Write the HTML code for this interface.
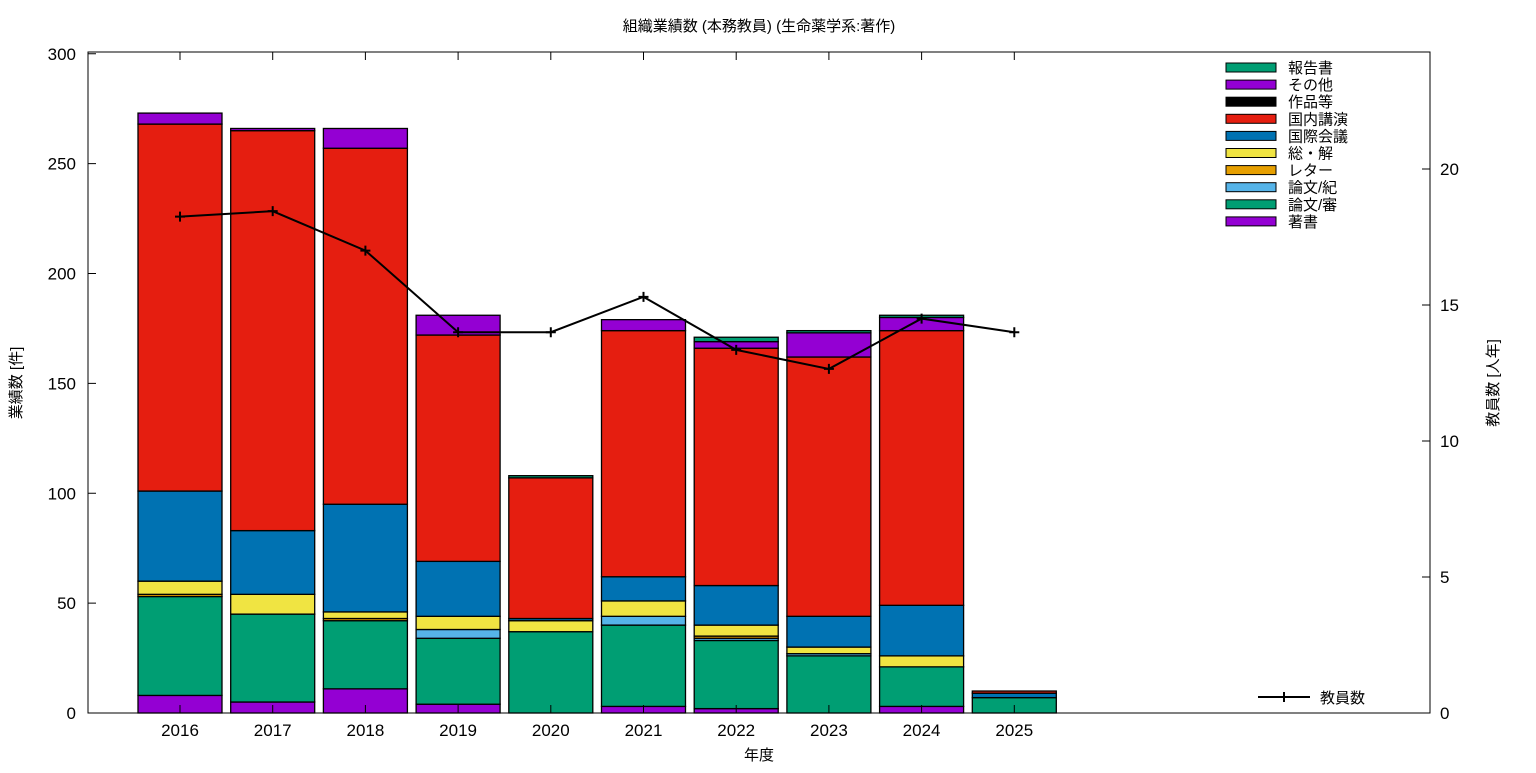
<!DOCTYPE html>
<html><head><meta charset="utf-8"><style>
body{margin:0;background:#fff;}
svg text{font-family:"Liberation Sans","Noto Sans CJK JP",sans-serif;}
</style></head><body>
<svg id="c" width="1536" height="768" xmlns="http://www.w3.org/2000/svg"></svg>
<script>
const years=["2016","2017","2018","2019","2020","2021","2022","2023","2024","2025"];
const seriesNames=["著書","論文/審","論文/紀","レター","総・解","国際会議","国内講演","作品等","その他","報告書"];
const seriesColors=["#9400d3","#009e73","#56b4e9","#e69f00","#f0e442","#0072b2","#e51e10","#000000","#9400d3","#009e73"];
const chosho=[8,5,11,4,0,3,2,0,3,0];
const shinsa=[45,40,31,30,37,37,31,26,18,7];
const kiyo=[0,0,0,4,0,4,1,1,0,0];
const letter=[1,0,1,0,0,0,1,0,0,0];
const sokai=[6,9,3,6,5,7,5,3,5,0];
const kokusai=[41,29,49,25,1,11,18,14,23,2];
const kokunai=[167,182,162,103,64,112,108,118,125,1];
const sakuhin=[0,0,0,0,0,0,0,0,0,0];
const sonota=[5,1,9,9,0,5,3,11,6,0];
const hokoku=[0,0,0,0,1,0,2,1,1,0];
const staff=[18.25,18.45,17.0,14.0,14.0,15.3,13.35,12.65,14.5,14.0];
const leftTicks=[0,50,100,150,200,250,300];
const rightTicks=[0,5,10,15,20];

const L=88,R=1430,T=52,B=713;
const yL=v=>B-v*(B-T)/300.8;
const yR=v=>B-v*27.2;
const xC=i=>180+i*92.7;
const bw=84;
const svg=document.getElementById('c');
const NS="http://www.w3.org/2000/svg";
function mk(tag,attrs,parent){const e=document.createElementNS(NS,tag);for(const k in attrs)e.setAttribute(k,attrs[k]);(parent||svg).appendChild(e);return e;}
function txt(s,attrs){const e=mk('text',attrs);e.textContent=s;return e;}

const all=[chosho,shinsa,kiyo,letter,sokai,kokusai,kokunai,sakuhin,sonota,hokoku];
const gBars=mk('g',{});


years.forEach((y,i)=>{
  let acc=0;
  all.forEach((s,j)=>{
    const v=s[i]; if(v<=0)return;
    const r=mk('rect',{x:xC(i)-bw/2,y:yL(acc+v),width:bw,height:yL(acc)-yL(acc+v),fill:seriesColors[j],stroke:'#000','stroke-width':1.3},gBars);
    
    
    acc+=v;
  });
});

// axes frame
const fr=mk('rect',{x:L,y:T,width:R-L,height:B-T,fill:'none',stroke:'#000','stroke-width':1});


leftTicks.forEach(v=>{
  mk('line',{x1:L,x2:L+8,y1:yL(v),y2:yL(v),stroke:'#000'});
  const t=txt(String(v),{x:76,y:yL(v)+6,'text-anchor':'end','font-size':17});
  
  
});
rightTicks.forEach(v=>{
  mk('line',{x1:R-8,x2:R,y1:yR(v),y2:yR(v),stroke:'#000'});
  const t=txt(String(v),{x:1440,y:yR(v)+6,'font-size':17});
  
  
});
years.forEach((y,i)=>{
  mk('line',{x1:xC(i),x2:xC(i),y1:B,y2:B-8,stroke:'#000'});
  mk('line',{x1:xC(i),x2:xC(i),y1:T,y2:T+8,stroke:'#000'});
  const t=txt(y,{x:xC(i),y:736,'text-anchor':'middle','font-size':17});
  
  
});

// staff line
const pts=staff.map((v,i)=>xC(i)+','+yR(v)).join(' ');
const pl=mk('polyline',{points:pts,fill:'none',stroke:'#000','stroke-width':2});


staff.forEach((v,i)=>{
  const p=mk('path',{d:`M${xC(i)-5},${yR(v)}h10M${xC(i)},${yR(v)-5}v10`,stroke:'#000','stroke-width':2});
  
  
});

// legend
for(let k=0;k<10;k++){
  const j=9-k, yy=67+k*17.1;
  const r=mk('rect',{x:1226,y:yy-4,width:50,height:9,fill:seriesColors[j],stroke:'#000','stroke-width':1});
  
  
  const t=txt(seriesNames[j],{x:1288,y:yy+6,'font-size':15});
  
  
}
mk('path',{d:'M1258,697h52M1284,692v10',stroke:'#000','stroke-width':2});
const lt=txt('教員数',{x:1320,y:703,'font-size':15});



const tt=txt('組織業績数 (本務教員) (生命薬学系:著作)',{x:759,y:31,'text-anchor':'middle','font-size':15});


const xt=txt('年度',{x:759,y:760,'text-anchor':'middle','font-size':15});


const yt=txt('業績数 [件]',{x:0,y:0,'text-anchor':'middle','font-size':15,transform:'translate(21,383) rotate(-90)'});


const y2=txt('教員数 [人年]',{x:0,y:0,'text-anchor':'middle','font-size':15,transform:'translate(1498,383) rotate(-90)'});


</script>
</body></html>
